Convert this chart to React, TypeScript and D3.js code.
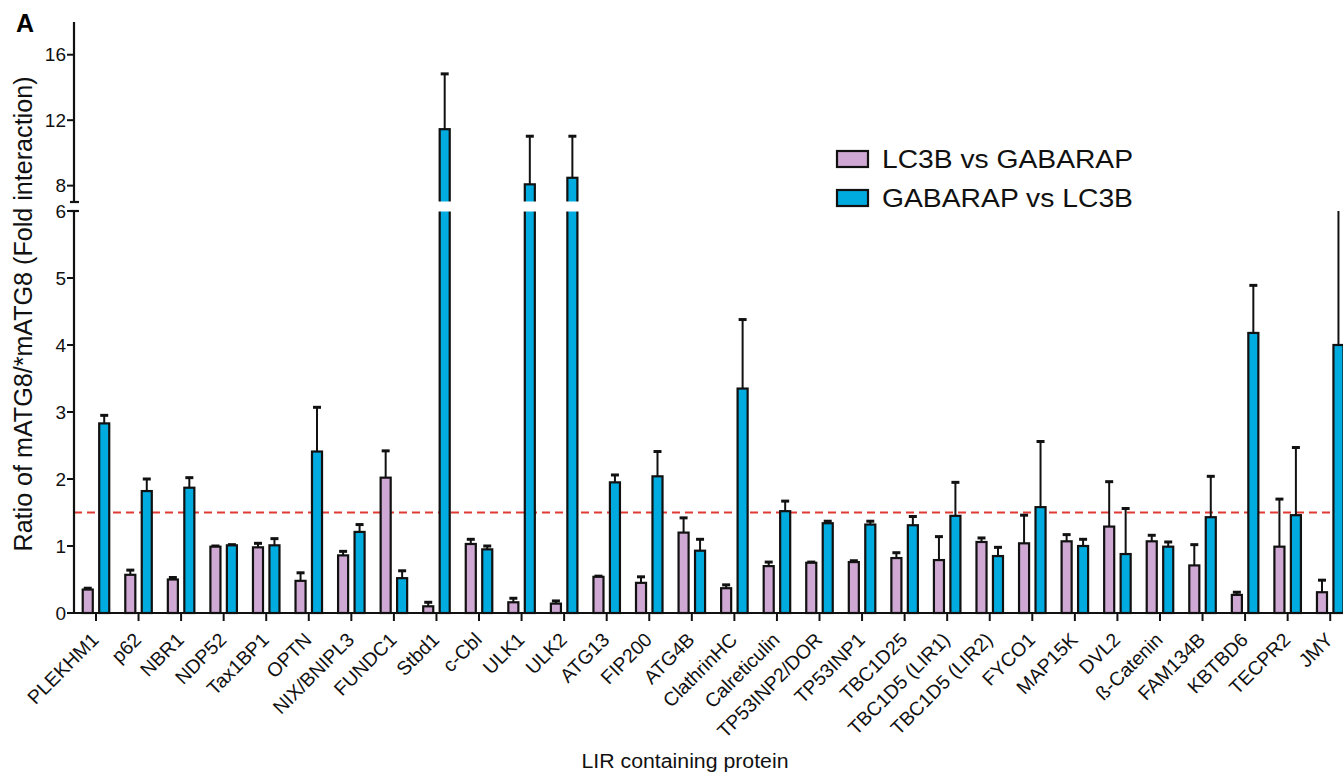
import React from "react";
import * as d3 from "d3";

// LIR containing proteins (x categories)
const proteins = [
  "PLEKHM1", "p62", "NBR1", "NDP52", "Tax1BP1", "OPTN", "NIX/BNIPL3", "FUNDC1",
  "Stbd1", "c-Cbl", "ULK1", "ULK2", "ATG13", "FIP200", "ATG4B", "ClathrinHC",
  "Calreticulin", "TP53INP2/DOR", "TP53INP1", "TBC1D25", "TBC1D5 (LIR1)",
  "TBC1D5 (LIR2)", "FYCO1", "MAP15K", "DVL2", "ß-Catenin", "FAM134B", "KBTBD6",
  "TECPR2", "JMY",
];

// LC3B vs GABARAP (pink)
const lc3bVals = [
  0.35, 0.57, 0.5, 0.99, 0.98, 0.48, 0.86, 2.02, 0.1, 1.03, 0.16, 0.14, 0.54, 0.45,
  1.2, 0.37, 0.7, 0.75, 0.76, 0.82, 0.79, 1.06, 1.04, 1.07, 1.29, 1.07, 0.71, 0.27,
  0.99, 0.31,
];
const lc3bErr = [
  0.02, 0.07, 0.03, 0.01, 0.06, 0.12, 0.06, 0.4, 0.06, 0.07, 0.06, 0.04, 0.01, 0.09,
  0.22, 0.05, 0.06, 0.01, 0.02, 0.08, 0.35, 0.06, 0.42, 0.1, 0.67, 0.09, 0.31, 0.04,
  0.71, 0.18,
];

// GABARAP vs LC3B (blue)
const gabVals = [
  2.83, 1.82, 1.87, 1.01, 1.01, 2.41, 1.21, 0.52, 11.45, 0.95, 8.08, 8.48, 1.95, 2.04,
  0.93, 3.35, 1.52, 1.34, 1.32, 1.31, 1.45, 0.85, 1.58, 1.0, 0.88, 0.99, 1.43, 4.18,
  1.46, 4.0,
];
const gabErr = [
  0.12, 0.18, 0.15, 0.01, 0.1, 0.66, 0.11, 0.11, 3.38, 0.05, 2.94, 2.54, 0.11, 0.37,
  0.17, 1.03, 0.15, 0.03, 0.05, 0.13, 0.5, 0.13, 0.98, 0.1, 0.68, 0.07, 0.61, 0.71,
  1.01, 2.5,
];

const seriesNames = ["LC3B vs GABARAP", "GABARAP vs LC3B"];
const seriesColors = ["#cfa9d3", "#00acdf"];
const lowerTicks = [0, 1, 2, 3, 4, 5, 6];
const upperTicks = [8, 12, 16];
const threshold = 1.5;

export default function App() {
  const ref = React.useRef(null);

  React.useEffect(() => {
    drawChart();
  }, []);

  function drawChart() {
    d3.select(ref.current).selectAll("*").remove();
    const font = "'Liberation Sans', Arial, Helvetica, sans-serif";

    const svg = d3
      .select(ref.current)
      .attr("width", 1343)
      .attr("height", 773)
      .style("font-family", font);

    const axisX = 74;
    const baseY = 613;

    // broken y axis: lower part 0-6, upper part 7-18
    const yLow = d3.scaleLinear().domain([0, 6]).range([baseY, 211]);
    const yUp = d3.scaleLinear().domain([7, 18]).range([202, 22]);
    const y = (v) => (v <= 6 ? yLow(v) : yUp(v));

    const x = d3
      .scaleBand()
      .domain(proteins)
      .range([axisX + 0.7, axisX + 0.7 + 30 * 42.56])
      .paddingInner(0.377)
      .paddingOuter(0.1885);
    const x1 = d3
      .scaleBand()
      .domain(seriesNames)
      .range([0, x.bandwidth()])
      .paddingInner(0.39);

    const data = proteins.map((p, i) => ({
      name: p,
      vals: [
        { s: seriesNames[0], v: lc3bVals[i], e: lc3bErr[i], c: seriesColors[0] },
        { s: seriesNames[1], v: gabVals[i], e: gabErr[i], c: seriesColors[1] },
      ],
    }));

    // threshold line
    svg.append("line")
      .attr("x1", axisX)
      .attr("x2", 1343)
      .attr("y1", yLow(threshold))
      .attr("y2", yLow(threshold))
      .attr("stroke", "#e03a35")
      .attr("stroke-width", 2)
      .attr("stroke-dasharray", "8,5");

    const groups = svg
      .selectAll(".grp")
      .data(data)
      .enter()
      .append("g")
      .attr("class", "grp")
      .attr("transform", (d) => `translate(${x(d.name)},0)`);

    // error bars
    groups.each(function (d) {
      const g = d3.select(this);
      d.vals.forEach((b) => {
        const cx = x1(b.s) + x1.bandwidth() / 2;
        const top = b.v + b.e;
        const clipped = b.v <= 6 && top > 6;
        const yTop = clipped ? yLow(6) : y(top);
        g.append("line")
          .attr("x1", cx)
          .attr("x2", cx)
          .attr("y1", y(b.v))
          .attr("y2", yTop)
          .attr("stroke", "#111")
          .attr("stroke-width", 2);
        if (!clipped) {
          g.append("line")
            .attr("x1", cx - 4)
            .attr("x2", cx + 4)
            .attr("y1", yTop)
            .attr("y2", yTop)
            .attr("stroke", "#111")
            .attr("stroke-width", 3);
        }
      });
    });

    // bars
    groups
      .selectAll("rect.bar")
      .data((d) => d.vals)
      .enter()
      .append("rect")
      .attr("class", "bar")
      .attr("x", (b) => x1(b.s))
      .attr("width", x1.bandwidth())
      .attr("y", (b) => y(b.v))
      .attr("height", (b) => baseY - y(b.v))
      .attr("fill", (b) => b.c)
      .attr("stroke", "#111")
      .attr("stroke-width", 2.2);

    // white gap where tall bars cross the axis break
    groups
      .selectAll("rect.gap")
      .data((d) => d.vals.filter((b) => b.v > 6))
      .enter()
      .append("rect")
      .attr("class", "gap")
      .attr("x", (b) => x1(b.s) - 2)
      .attr("width", x1.bandwidth() + 4)
      .attr("y", yUp(7) - 0.5)
      .attr("height", yLow(6) - yUp(7) + 1)
      .attr("fill", "#fff");

    // y axis (lower + upper segment)
    const axisStroke = "#111";
    svg.append("line")
      .attr("x1", axisX).attr("x2", axisX)
      .attr("y1", yLow(6)).attr("y2", baseY + 1)
      .attr("stroke", axisStroke).attr("stroke-width", 2.2);
    svg.append("line")
      .attr("x1", axisX).attr("x2", axisX)
      .attr("y1", yUp(18)).attr("y2", yUp(7))
      .attr("stroke", axisStroke).attr("stroke-width", 2.2);
    // break marks
    [yUp(7), yLow(6)].forEach((yy) => {
      svg.append("line")
        .attr("x1", axisX - 4).attr("x2", axisX + 5)
        .attr("y1", yy).attr("y2", yy)
        .attr("stroke", axisStroke).attr("stroke-width", 2.2);
    });

    const tickLabel = (v, yy) => {
      svg.append("line")
        .attr("x1", axisX - 7).attr("x2", axisX)
        .attr("y1", yy).attr("y2", yy)
        .attr("stroke", axisStroke).attr("stroke-width", 2);
      svg.append("text")
        .attr("x", axisX - 8)
        .attr("y", yy)
        .attr("dy", "0.35em")
        .attr("text-anchor", "end")
        .style("font-size", "19px")
        .attr("fill", "#111")
        .text(v);
    };
    lowerTicks.forEach((t) => tickLabel(t, yLow(t)));
    upperTicks.forEach((t) => tickLabel(t, yUp(t)));

    // x axis
    svg.append("line")
      .attr("x1", axisX - 1).attr("x2", 1343)
      .attr("y1", baseY).attr("y2", baseY)
      .attr("stroke", axisStroke).attr("stroke-width", 2.2);

    proteins.forEach((p) => {
      const cx = x(p) + x.bandwidth() / 2;
      svg.append("line")
        .attr("x1", cx).attr("x2", cx)
        .attr("y1", baseY).attr("y2", baseY + 8)
        .attr("stroke", axisStroke).attr("stroke-width", 2);
      svg.append("text")
        .attr("transform", `translate(${cx + 4},${baseY + 28}) rotate(-45)`)
        .attr("text-anchor", "end")
        .style("font-size", "19.5px")
        .attr("fill", "#111")
        .text(p);
    });

    // axis titles
    svg.append("text")
      .attr("transform", `translate(32,314) rotate(-90)`)
      .attr("text-anchor", "middle")
      .attr("textLength", 475)
      .attr("lengthAdjust", "spacingAndGlyphs")
      .style("font-size", "25px")
      .attr("fill", "#111")
      .text("Ratio of mATG8/*mATG8 (Fold interaction)");

    svg.append("text")
      .attr("x", 685)
      .attr("y", 768)
      .attr("text-anchor", "middle")
      .attr("textLength", 207)
      .attr("lengthAdjust", "spacingAndGlyphs")
      .style("font-size", "20px")
      .attr("fill", "#111")
      .text("LIR containing protein");

    // panel letter
    svg.append("text")
      .attr("x", 16)
      .attr("y", 32)
      .style("font-size", "25px")
      .style("font-weight", "bold")
      .attr("fill", "#000")
      .text("A");

    // legend
    const legend = svg.append("g").attr("transform", "translate(837,151)");
    seriesNames.forEach((s, i) => {
      legend.append("rect")
        .attr("x", 0)
        .attr("y", i * 39)
        .attr("width", 31)
        .attr("height", 16)
        .attr("fill", seriesColors[i])
        .attr("stroke", "#111")
        .attr("stroke-width", 2.2);
      legend.append("text")
        .attr("x", 45)
        .attr("y", i * 39 + 16.5)
        .attr("textLength", 251)
        .attr("lengthAdjust", "spacingAndGlyphs")
        .style("font-size", "25.5px")
        .attr("fill", "#111")
        .text(s);
    });
  }

  return (
    <svg ref={ref} style={{ position: "absolute", left: 0, top: 0 }} />
  );
}
